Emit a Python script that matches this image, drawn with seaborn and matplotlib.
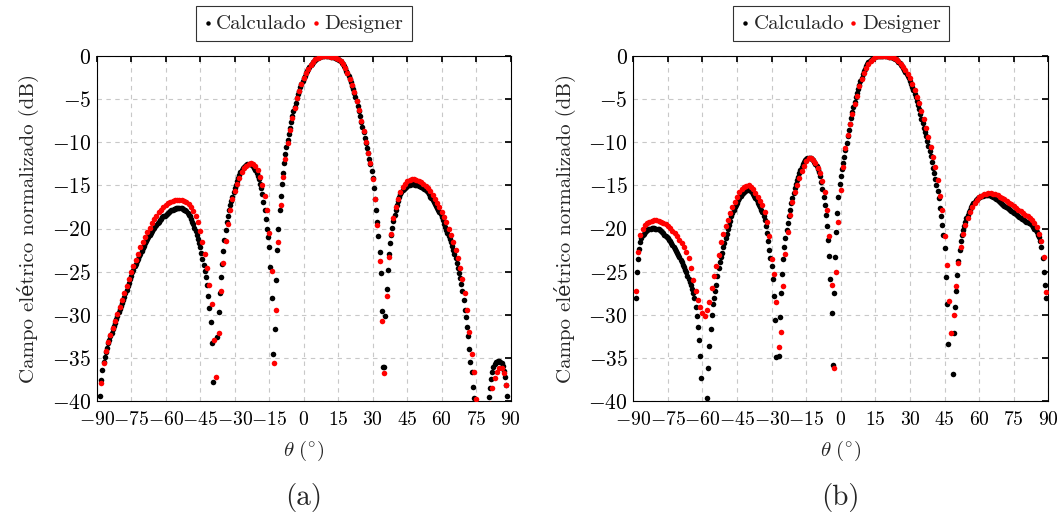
import numpy as np
import pandas as pd
import matplotlib
matplotlib.use("Agg")
import matplotlib.pyplot as plt
import seaborn as sns

# angle grids: calculated pattern every 0.5 deg, Designer export every 1 deg
theta_calc = np.arange(-90, 90.5, 0.5)
theta_des = np.arange(-90, 91, 1.0)

# (a) normalized field, dB (values below -40 fall outside the axes)
calc_a = [
    -60.0, -48.0, -42.5, -39.4, -37.6, -36.4, -35.5, -34.9, -34.3, -33.8,
    -33.3, -32.9, -32.5, -32.1, -31.7, -31.3, -30.9, -30.5, -30.1, -29.7,
    -29.3, -29.0, -28.6, -28.3, -27.9, -27.5, -27.1, -26.7, -26.3, -25.9,
    -25.5, -25.1, -24.8, -24.4, -24.1, -23.8, -23.5, -23.2, -22.9, -22.6,
    -22.3, -22.0, -21.7, -21.5, -21.2, -21.0, -20.7, -20.5, -20.3, -20.1,
    -19.9, -19.7, -19.6, -19.4, -19.2, -19.0, -18.9, -18.7, -18.6, -18.5,
    -18.4, -18.3, -18.2, -18.1, -18.0, -17.9, -17.8, -17.75, -17.7, -17.65,
    -17.6, -17.6, -17.6, -17.6, -17.65, -17.7, -17.8, -17.9, -18.0, -18.2,
    -18.4, -18.6, -18.9, -19.2, -19.5, -19.9, -20.3, -20.7, -21.2, -21.7,
    -22.2, -22.8, -23.5, -24.2, -24.9, -25.6, -26.5, -27.8, -29.2, -30.8,
    -33.3, -37.8, -50.0, -48.0, -44.0, -32.6, -29.7, -27.5, -25.6, -24.1,
    -22.6, -21.3, -20.2, -19.3, -18.6, -17.9, -17.3, -16.8, -16.3, -15.8,
    -15.3, -14.9, -14.5, -14.1, -13.8, -13.5, -13.25, -13.0, -12.85, -12.7,
    -12.6, -12.55, -12.5, -12.5, -12.55, -12.65, -12.8, -13.0, -13.25, -13.55,
    -13.9, -14.3, -14.8, -15.3, -16.0, -16.9, -17.8, -18.9, -20.0, -21.0,
    -22.1, -24.5, -28.0, -34.6, -45.0, -31.6, -26.0, -22.5, -20.0, -17.9,
    -16.2, -14.8, -13.6, -12.4, -11.4, -10.5, -9.7, -9.0, -8.3, -7.6,
    -7.0, -6.4, -5.9, -5.4, -4.9, -4.45, -4.0, -3.6, -3.2, -2.9,
    -2.6, -2.3, -2.0, -1.75, -1.5, -1.27, -1.06, -0.87, -0.7, -0.55,
    -0.42, -0.31, -0.22, -0.14, -0.08, -0.04, -0.02, -0.01, 0.0, 0.0,
    0.0, -0.01, -0.02, -0.04, -0.06, -0.09, -0.13, -0.18, -0.24, -0.31,
    -0.38, -0.5, -0.63, -0.77, -0.95, -1.18, -1.43, -1.7, -1.98, -2.28,
    -2.65, -3.05, -3.45, -3.85, -4.25, -4.75, -5.25, -5.8, -6.4, -7.0,
    -7.6, -8.2, -8.8, -9.45, -10.1, -10.7, -11.3, -11.9, -12.5, -13.3,
    -14.2, -15.3, -16.6, -17.9, -19.3, -20.9, -22.7, -25.2, -29.6, -36.0,
    -36.0, -30.2, -27.0, -24.8, -23.0, -21.7, -20.7, -19.9, -19.1, -18.4,
    -17.8, -17.3, -16.8, -16.4, -16.0, -15.75, -15.55, -15.4, -15.25, -15.15,
    -15.05, -14.95, -14.9, -14.85, -14.85, -14.85, -14.85, -14.9, -14.95, -15.0,
    -15.05, -15.1, -15.15, -15.2, -15.3, -15.4, -15.5, -15.65, -15.8, -16.0,
    -16.3, -16.5, -16.7, -16.95, -17.2, -17.4, -17.6, -17.85, -18.1, -18.35,
    -18.7, -19.05, -19.45, -19.85, -20.2, -20.55, -20.9, -21.25, -21.6, -22.0,
    -22.45, -22.95, -23.45, -24.0, -24.6, -25.2, -25.7, -26.4, -27.2, -28.3,
    -29.4, -30.3, -31.4, -32.5, -34.0, -35.5, -36.6, -38.4, -39.7, -43.0,
    -48.0, -52.0, -50.0, -47.0, -45.5, -44.5, -43.5, -42.8, -42.0, -41.3,
    -40.6, -39.5, -38.5, -37.5, -36.6, -36.0, -35.7, -35.5, -35.45, -35.4,
    -35.4, -35.45, -35.6, -35.9, -36.5, -37.2, -38.2, -39.4, -41.5, -46.0,
    -60.0,
]
des_a = [
    -60.0, -41.5, -37.9, -35.6, -34.2, -33.2, -32.3, -31.5, -30.7, -29.9,
    -29.1, -28.3, -27.5, -26.7, -25.9, -25.1, -24.4, -23.6, -22.9, -22.2,
    -21.6, -21.0, -20.4, -19.9, -19.4, -18.9, -18.5, -18.1, -17.8, -17.5,
    -17.3, -17.1, -16.95, -16.8, -16.7, -16.65, -16.65, -16.7, -16.8, -16.95,
    -17.2, -17.5, -17.95, -18.5, -19.3, -20.3, -21.6, -23.0, -24.6, -26.5,
    -28.8, -32.9, -37.2, -32.1, -27.3, -24.0, -21.4, -19.5, -17.9, -16.6,
    -15.6, -14.8, -14.1, -13.5, -13.0, -12.7, -12.5, -12.45, -12.55, -12.8,
    -13.2, -14.0, -14.9, -16.2, -17.9, -20.5, -24.9, -35.6, -29.4, -21.6,
    -17.3, -14.0, -11.9, -10.1, -8.6, -7.2, -6.0, -4.9, -4.0, -3.2,
    -2.5, -1.95, -1.45, -1.02, -0.67, -0.4, -0.2, -0.08, -0.02, 0.0,
    0.0, -0.02, -0.06, -0.13, -0.24, -0.38, -0.63, -0.95, -1.43, -1.98,
    -2.65, -3.4, -4.2, -5.2, -6.3, -7.5, -8.7, -10.0, -11.2, -12.4,
    -14.3, -16.6, -19.6, -23.8, -30.7, -36.7, -27.8, -23.3, -20.6, -18.8,
    -17.5, -16.6, -15.8, -15.2, -14.8, -14.5, -14.35, -14.3, -14.3, -14.35,
    -14.45, -14.6, -14.8, -15.05, -15.35, -15.7, -16.1, -16.55, -17.0, -17.5,
    -18.05, -18.65, -19.3, -20.0, -20.75, -21.55, -22.45, -23.45, -24.6, -25.9,
    -27.5, -29.5, -32.0, -34.6, -36.6, -39.8, -45.0, -50.0, -47.0, -44.0,
    -42.0, -40.4, -38.5, -37.3, -36.6, -36.2, -36.2, -36.8, -38.2, -41.5,
    -60.0,
]

# (b) normalized field, dB
calc_b = [
    -60.0, -42.0, -28.0, -25.1, -23.5, -22.4, -21.6, -21.1, -20.8, -20.6,
    -20.45, -20.3, -20.2, -20.1, -20.05, -20.0, -19.95, -19.95, -19.95, -20.0,
    -20.0, -20.05, -20.1, -20.2, -20.3, -20.4, -20.55, -20.7, -20.85, -21.0,
    -21.15, -21.3, -21.5, -21.7, -21.9, -22.1, -22.35, -22.6, -22.85, -23.1,
    -23.35, -23.6, -23.9, -24.2, -24.5, -24.8, -25.1, -25.45, -25.8, -26.2,
    -26.6, -27.0, -27.5, -28.1, -29.1, -30.2, -31.4, -32.9, -34.8, -37.3,
    -43.0, -50.0, -46.0, -42.0, -39.7, -36.2, -33.6, -31.7, -30.0, -28.8,
    -28.0, -27.3, -26.5, -25.5, -24.6, -23.9, -23.3, -22.8, -22.2, -21.7,
    -21.1, -20.6, -20.1, -19.6, -19.1, -18.6, -18.2, -17.85, -17.55, -17.25,
    -17.0, -16.75, -16.5, -16.25, -16.05, -15.9, -15.75, -15.65, -15.55, -15.5,
    -15.5, -15.55, -15.65, -15.8, -16.0, -16.2, -16.45, -16.7, -17.0, -17.25,
    -17.5, -17.8, -18.1, -18.5, -19.0, -19.7, -20.5, -21.5, -22.5, -23.4,
    -24.4, -25.9, -27.8, -30.6, -34.9, -42.0, -34.8, -30.3, -27.5, -25.3,
    -23.5, -22.2, -21.1, -20.2, -19.4, -18.5, -17.8, -17.1, -16.5, -15.9,
    -15.3, -14.8, -14.4, -14.0, -13.6, -13.2, -12.85, -12.55, -12.3, -12.1,
    -11.95, -11.85, -11.8, -11.8, -11.85, -11.95, -12.1, -12.3, -12.5, -12.75,
    -13.05, -13.4, -13.9, -14.6, -15.4, -16.3, -17.3, -18.4, -19.7, -21.3,
    -23.2, -25.8, -29.8, -35.8, -27.5, -23.3, -20.4, -18.2, -16.3, -14.8,
    -13.9, -13.1, -12.4, -11.7, -10.9, -10.1, -9.3, -8.6, -7.9, -7.2,
    -6.5, -5.9, -5.3, -4.8, -4.3, -3.8, -3.35, -2.9, -2.5, -2.1,
    -1.75, -1.45, -1.17, -0.93, -0.72, -0.55, -0.41, -0.29, -0.2, -0.13,
    -0.08, -0.05, -0.03, -0.01, 0.0, 0.0, 0.0, 0.0, 0.0, -0.01,
    -0.02, -0.04, -0.07, -0.1, -0.14, -0.19, -0.25, -0.32, -0.4, -0.52,
    -0.66, -0.82, -1.0, -1.18, -1.38, -1.6, -1.83, -2.07, -2.32, -2.6,
    -2.9, -3.25, -3.6, -3.95, -4.35, -4.75, -5.2, -5.7, -6.2, -6.75,
    -7.3, -7.8, -8.3, -8.8, -9.3, -9.85, -10.4, -11.0, -11.6, -12.3,
    -13.0, -13.6, -14.3, -15.0, -15.6, -16.5, -17.6, -18.6, -19.6, -20.7,
    -22.3, -25.6, -28.7, -33.4, -42.0, -50.0, -42.0, -36.9, -32.1, -29.1,
    -27.2, -25.4, -23.8, -22.5, -21.5, -20.8, -20.2, -19.7, -19.2, -18.8,
    -18.4, -18.1, -17.8, -17.5, -17.3, -17.1, -16.9, -16.75, -16.6, -16.5,
    -16.4, -16.3, -16.25, -16.2, -16.15, -16.1, -16.1, -16.1, -16.1, -16.15,
    -16.2, -16.25, -16.3, -16.4, -16.5, -16.6, -16.7, -16.85, -16.95, -17.05,
    -17.15, -17.25, -17.35, -17.45, -17.55, -17.65, -17.75, -17.85, -17.95, -18.05,
    -18.15, -18.25, -18.35, -18.45, -18.55, -18.65, -18.75, -18.85, -18.95, -19.05,
    -19.15, -19.22, -19.3, -19.35, -19.4, -19.5, -19.65, -19.8, -20.0, -20.2,
    -20.45, -20.7, -21.0, -21.4, -22.2, -23.4, -25.0, -26.5, -28.0, -45.0,
    -60.0,
]
des_b = [
    -60.0, -27.2, -22.7, -20.8, -20.0, -19.6, -19.35, -19.2, -19.1, -19.05,
    -19.05, -19.1, -19.2, -19.35, -19.5, -19.7, -19.95, -20.25, -20.55, -20.9,
    -21.3, -21.7, -22.2, -22.7, -23.4, -24.6, -26.0, -27.3, -28.3, -29.1,
    -29.8, -30.2, -29.5, -28.5, -26.9, -25.5, -24.4, -23.1, -21.6, -20.6,
    -19.7, -19.0, -18.2, -17.5, -16.9, -16.3, -15.8, -15.45, -15.2, -15.05,
    -15.0, -15.15, -15.45, -15.9, -16.4, -16.8, -17.3, -18.1, -19.2, -20.9,
    -23.5, -25.3, -28.5, -33.7, -32.0, -26.7, -23.0, -20.4, -18.4, -16.9,
    -15.8, -14.9, -14.1, -13.3, -12.7, -12.2, -11.85, -11.8, -12.0, -12.4,
    -13.0, -13.6, -14.5, -15.8, -17.9, -20.9, -26.5, -36.2, -25.0, -19.2,
    -15.5, -12.9, -10.7, -9.2, -7.9, -6.7, -5.6, -4.6, -3.5, -2.7,
    -2.0, -1.4, -0.9, -0.55, -0.3, -0.13, -0.04, 0.0, 0.0, 0.0,
    -0.02, -0.06, -0.13, -0.23, -0.37, -0.6, -0.9, -1.25, -1.65, -2.1,
    -2.6, -3.2, -3.9, -4.7, -5.5, -6.4, -7.3, -8.3, -9.4, -10.5,
    -11.7, -12.9, -14.4, -16.2, -17.9, -20.9, -24.2, -28.4, -32.1, -30.0,
    -26.7, -24.0, -22.1, -20.6, -19.6, -18.8, -18.1, -17.5, -17.0, -16.7,
    -16.4, -16.2, -16.05, -15.95, -15.9, -15.9, -15.95, -16.05, -16.15, -16.3,
    -16.45, -16.6, -16.8, -17.0, -17.2, -17.4, -17.6, -17.8, -18.0, -18.2,
    -18.4, -18.6, -18.8, -19.05, -19.4, -19.8, -20.6, -21.5, -23.3, -27.4,
    -60.0,
]

xticks = [-90, -75, -60, -45, -30, -15, 0, 15, 30, 45, 60, 75, 90]
yticks = [0, -5, -10, -15, -20, -25, -30, -35, -40]
panels = ["(a)", "(b)"]

sns.set_theme(style="white")
plt.rcParams.update({
    "mathtext.fontset": "cm",
    "font.size": 15,
    "axes.edgecolor": "black",
    "axes.linewidth": 0.8,
    "xtick.direction": "in",
    "ytick.direction": "in",
    "xtick.top": True,
    "ytick.right": True,
    "xtick.major.size": 4,
    "ytick.major.size": 4,
    "xtick.color": "black",
    "ytick.color": "black",
})
plt.rcParams["font.family"] = ["cmr10", "DejaVu Serif"]

W, H = 1064, 522
fig = plt.figure(figsize=(W / 100, H / 100), dpi=100)
ax_a = fig.add_axes([96.7 / W, 1 - 401 / H, 414 / W, 345 / H])
ax_b = fig.add_axes([633.3 / W, 1 - 401 / H, 415 / W, 345 / H])

for ax, calc, des, tag in [(ax_a, calc_a, des_a, panels[0]), (ax_b, calc_b, des_b, panels[1])]:
    df_calc = pd.DataFrame({"theta": theta_calc, "dB": calc})
    df_des = pd.DataFrame({"theta": theta_des, "dB": des})
    sns.scatterplot(data=df_calc, x="theta", y="dB", color="black", s=16,
                    linewidth=0, ax=ax, label="Calculado", zorder=3)
    sns.scatterplot(data=df_des, x="theta", y="dB", color="red", s=16,
                    linewidth=0, ax=ax, label="Designer", zorder=4)
    ax.set_xlim(-90, 90)
    ax.set_ylim(-40, 0)
    ax.set_xticks(xticks, [f"${v}$" for v in xticks])
    ax.set_yticks(yticks, [f"${v}$" for v in yticks])
    ax.tick_params(axis="x", labelsize=14.2, pad=7)
    ax.tick_params(axis="y", labelsize=15.5, pad=4)
    ax.grid(True, color="#c8c8c8", linestyle=(0, (4, 4)), linewidth=0.8)
    ax.set_axisbelow(True)
    ax.set_xlabel(r"$\theta\ (^{\circ})$", fontsize=15, labelpad=7)
    ax.set_ylabel("Campo elétrico normalizado (dB)", fontsize=15, labelpad=9)
    leg = ax.legend(loc="lower center", bbox_to_anchor=(0.5, 1.043), ncol=2,
                    frameon=True, fancybox=False, fontsize=15, handlelength=0.4,
                    handletextpad=0.2, columnspacing=0.25, borderpad=0.4,
                    borderaxespad=0, markerscale=0.8)
    leg.get_frame().set_edgecolor("black")
    leg.get_frame().set_linewidth(0.8)
    cx = ax.get_position().x0 + ax.get_position().width / 2
    fig.text(cx, 1 - 497 / H, tag, ha="center", va="center", fontsize=21)

fig.savefig("out.png", dpi=100)
